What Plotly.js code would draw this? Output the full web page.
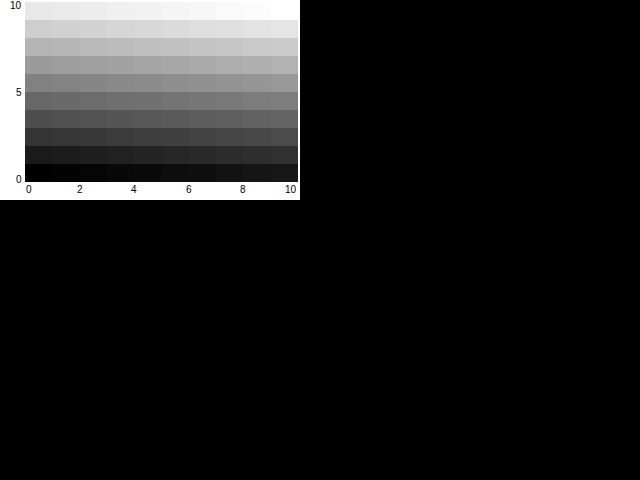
<!DOCTYPE html>
<html>
<head>
<meta charset="utf-8">
<script src="https://cdn.plot.ly/plotly-3.0.1.min.js"></script>
<style>
html,body{margin:0;padding:0;background:#000;width:640px;height:480px;overflow:hidden;}
#chart{position:absolute;left:0;top:0;width:300px;height:200px;}
</style>
</head>
<body>
<div id="chart"></div>
<script>
const xEdges = [0,1,2,3,4,5,6,7,8,9,10];
const yEdges = [0,1,2,3,4,5,6,7,8,9,10];
const row0 = [0,1,2,3,4,5,6,7,8,9];
const row1 = [10,11,12,13,14,15,16,17,18,19];
const row2 = [20,21,22,23,24,25,26,27,28,29];
const row3 = [30,31,32,33,34,35,36,37,38,39];
const row4 = [40,41,42,43,44,45,46,47,48,49];
const row5 = [50,51,52,53,54,55,56,57,58,59];
const row6 = [60,61,62,63,64,65,66,67,68,69];
const row7 = [70,71,72,73,74,75,76,77,78,79];
const row8 = [80,81,82,83,84,85,86,87,88,89];
const row9 = [90,91,92,93,94,95,96,97,98,99];
const zValues = [row0,row1,row2,row3,row4,row5,row6,row7,row8,row9];
const xTicks = [0,2,4,6,8,10];
const yTicks = [0,5,10];

const labelFont = {family: 'Liberation Sans, Arial, sans-serif', size: 10, color: '#000'};
const annotations = [];
xTicks.forEach((v, i) => {
  annotations.push({
    x: v, xref: 'x', y: 0, yref: 'paper',
    text: String(v), showarrow: false, font: labelFont,
    xanchor: i === 0 ? 'left' : (i === xTicks.length - 1 ? 'right' : 'center'),
    yanchor: 'top', yshift: -1, borderpad: 0
  });
});
yTicks.forEach((v, i) => {
  const first = i === 0, last = i === yTicks.length - 1;
  annotations.push({
    x: 0, xref: 'paper', y: v, yref: 'y',
    text: String(v), showarrow: false, font: labelFont,
    xanchor: 'right', xshift: -2,
    yanchor: first ? 'bottom' : (last ? 'top' : 'middle'),
    yshift: first ? -4 : (last ? 3 : 0),
    borderpad: 0
  });
});

Plotly.newPlot('chart', [{
  type: 'heatmap',
  x: xEdges,
  y: yEdges,
  z: zValues,
  colorscale: [[0,'#000000'],[1,'#ffffff']],
  showscale: false,
  hoverinfo: 'skip'
}], {
  width: 300,
  height: 200,
  margin: {l: 25, r: 2, t: 2, b: 18, pad: 0},
  paper_bgcolor: '#ffffff',
  plot_bgcolor: '#ffffff',
  font: labelFont,
  xaxis: {range: [0,10], showticklabels: false, showgrid: false, zeroline: false, ticks: '', showline: false},
  yaxis: {range: [0,10], showticklabels: false, showgrid: false, zeroline: false, ticks: '', showline: false},
  annotations: annotations
}, {staticPlot: true, displayModeBar: false});
</script>
</body>
</html>
